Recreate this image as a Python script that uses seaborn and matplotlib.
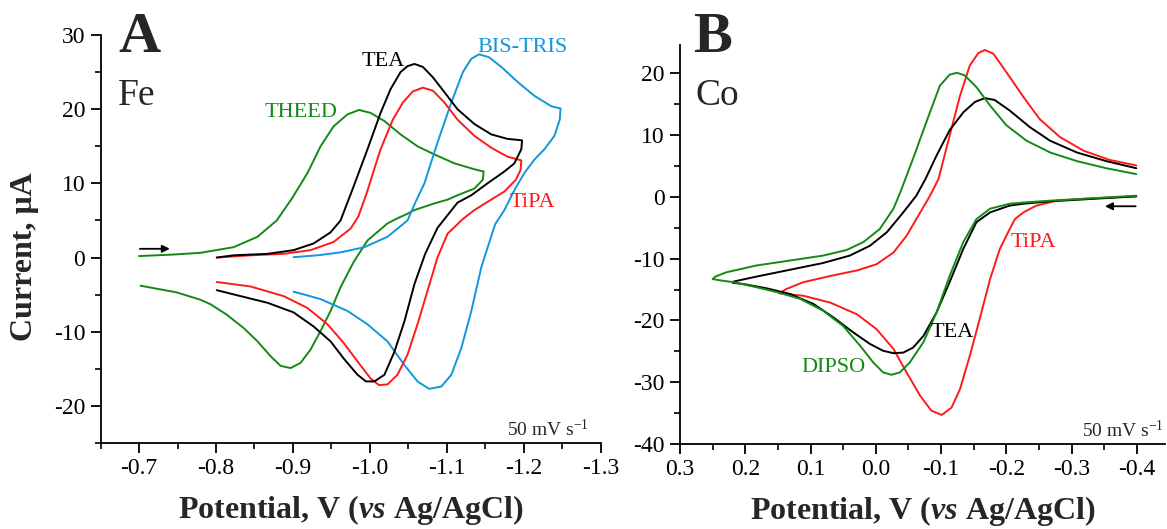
import matplotlib
matplotlib.use("Agg")
import matplotlib.pyplot as plt
import seaborn as sns
from matplotlib.ticker import MultipleLocator, FormatStrFormatter

# ---------------- Fe complexes (panel A): potential (V) and current (uA) ----------------
fe_theed_E = [-0.700, -0.744, -0.780, -0.823, -0.854, -0.879, -0.899, -0.919, -0.936, -0.953,
              -0.971, -0.986, -1.001, -1.019, -1.040, -1.062, -1.084, -1.110, -1.136, -1.148,
              -1.147, -1.136, -1.114, -1.101, -1.084, -1.058, -1.049, -1.036, -1.023, -0.997,
              -0.979, -0.962, -0.949, -0.936, -0.923, -0.910, -0.897, -0.884, -0.871, -0.854,
              -0.836, -0.814, -0.793, -0.780, -0.749, -0.702]
fe_theed_I = [0.2, 0.4, 0.64, 1.4, 2.8, 5.0, 8.0, 11.4, 15.0, 17.7,
              19.3, 19.9, 19.5, 18.4, 16.6, 15.0, 13.9, 12.7, 11.9, 11.6,
              10.5, 9.3, 8.4, 7.8, 7.3, 6.4, 5.9, 5.3, 4.6, 2.3,
              -0.6, -4.0, -7.2, -9.9, -12.4, -14.2, -14.9, -14.6, -13.3, -11.3,
              -9.5, -7.7, -6.3, -5.7, -4.7, -3.8]

fe_tea_E = [-0.801, -0.823, -0.867, -0.901, -0.927, -0.949, -0.962, -0.979, -0.997, -1.014,
            -1.027, -1.040, -1.049, -1.058, -1.069, -1.082, -1.097, -1.114, -1.136, -1.158,
            -1.179, -1.198, -1.197, -1.188, -1.175, -1.153, -1.132, -1.114, -1.101, -1.088,
            -1.072, -1.058, -1.045, -1.032, -1.019, -1.006, -0.995, -0.984, -0.966, -0.949,
            -0.927, -0.901, -0.867, -0.832, -0.801]
fe_tea_I = [0.0, 0.3, 0.5, 1.0, 1.9, 3.4, 5.0, 9.6, 14.6, 19.5,
            22.7, 25.0, 25.8, 26.1, 25.7, 24.3, 22.3, 20.0, 18.0, 16.6,
            16.0, 15.8, 14.6, 12.7, 11.6, 10.0, 8.4, 7.4, 5.7, 4.0,
            0.5, -3.6, -8.6, -12.7, -15.8, -16.7, -16.7, -15.8, -13.6, -11.3,
            -9.3, -7.4, -6.1, -5.2, -4.4]

fe_tipa_E = [-0.801, -0.845, -0.888, -0.923, -0.953, -0.975, -0.985, -0.996, -1.014, -1.030,
             -1.043, -1.056, -1.069, -1.082, -1.097, -1.114, -1.136, -1.158, -1.179, -1.197,
             -1.196, -1.190, -1.175, -1.153, -1.136, -1.121, -1.101, -1.088, -1.075, -1.062,
             -1.049, -1.036, -1.023, -1.012, -1.001, -0.984, -0.966, -0.945, -0.919, -0.888,
             -0.845, -0.801]
fe_tipa_I = [0.0, 0.3, 0.5, 1.0, 2.1, 3.9, 5.5, 8.7, 14.6, 18.6,
             20.9, 22.4, 22.9, 22.5, 20.9, 18.6, 16.4, 14.8, 13.6, 13.1,
             11.8, 10.5, 8.9, 7.5, 6.4, 5.2, 3.2, 0.0, -4.5, -9.0,
             -13.1, -15.8, -17.1, -17.2, -16.3, -14.0, -11.5, -9.0, -6.8, -5.2,
             -3.9, -3.3]

fe_bistris_E = [-0.901, -0.932, -0.962, -0.993, -1.023, -1.049, -1.060, -1.071, -1.088, -1.106,
                -1.121, -1.132, -1.142, -1.155, -1.171, -1.193, -1.214, -1.236, -1.248, -1.247,
                -1.240, -1.227, -1.214, -1.201, -1.188, -1.175, -1.163, -1.145, -1.132, -1.119,
                -1.106, -1.093, -1.077, -1.062, -1.045, -1.023, -0.997, -0.971, -0.936, -0.901]
fe_bistris_I = [0.05, 0.3, 0.7, 1.4, 2.8, 5.0, 7.6, 10.0, 15.5, 20.9,
                25.0, 26.8, 27.4, 27.0, 25.7, 23.6, 21.8, 20.4, 20.1, 18.6,
                16.4, 14.6, 13.2, 11.4, 9.1, 6.4, 4.5, -1.3, -7.2, -12.2,
                -15.8, -17.4, -17.7, -16.7, -14.5, -11.3, -9.0, -7.2, -5.6, -4.6]

# ---------------- Co complexes (panel B) ----------------
co_tea_E = [-0.399, -0.318, -0.267, -0.226, -0.205, -0.175, -0.154, -0.134, -0.113, -0.093,
            -0.073, -0.057, -0.042, -0.027, -0.011, 0.009, 0.035, 0.065, 0.096, 0.132,
            0.167, 0.203, 0.219, 0.218, 0.183, 0.132, 0.081, 0.040, 0.009, -0.017,
            -0.042, -0.062, -0.076, -0.093, -0.113, -0.134, -0.152, -0.167, -0.182, -0.205,
            -0.236, -0.267, -0.308, -0.353, -0.399]
co_tea_I = [0.1, -0.4, -0.7, -1.1, -1.4, -2.5, -4.1, -8.4, -13.8, -18.7,
            -22.5, -24.4, -25.2, -25.3, -24.9, -23.8, -21.9, -19.5, -17.3, -15.7,
            -14.8, -14.1, -13.9, -13.7, -12.9, -11.8, -10.7, -9.5, -7.9, -5.7,
            -2.5, 0.2, 2.9, 6.7, 10.8, 13.7, 15.4, 16.0, 15.7, 14.0,
            11.3, 9.1, 7.2, 5.8, 4.65]

co_dipso_E = [-0.399, -0.318, -0.267, -0.226, -0.205, -0.175, -0.154, -0.134, -0.113, -0.093,
              -0.073, -0.052, -0.037, -0.024, -0.011, 0.004, 0.024, 0.050, 0.081, 0.116,
              0.152, 0.188, 0.218, 0.239, 0.250, 0.246, 0.229, 0.183, 0.132, 0.081,
              0.045, 0.019, -0.006, -0.027, -0.038, -0.057, -0.078, -0.098, -0.113, -0.124,
              -0.136, -0.154, -0.175, -0.200, -0.231, -0.267, -0.308, -0.353, -0.399]
co_dipso_I = [0.2, -0.3, -0.6, -0.9, -1.1, -1.9, -3.6, -7.3, -12.8, -18.7,
              -23.5, -26.8, -28.4, -28.8, -28.4, -26.8, -24.1, -20.9, -18.4, -16.5,
              -15.4, -14.5, -13.8, -13.5, -13.3, -12.9, -12.2, -11.1, -10.3, -9.5,
              -8.6, -7.3, -5.2, -1.9, 0.9, 6.2, 12.3, 18.0, 19.8, 20.1,
              19.7, 17.8, 14.8, 11.6, 9.1, 7.2, 5.8, 4.65, 3.7]

co_tipa_E = [-0.399, -0.318, -0.277, -0.246, -0.226, -0.213, -0.205, -0.190, -0.175, -0.159,
             -0.144, -0.129, -0.116, -0.101, -0.085, -0.068, -0.047, -0.027, -0.001, 0.029,
             0.070, 0.111, 0.148, 0.137, 0.111, 0.070, 0.029, -0.001, -0.027, -0.047,
             -0.068, -0.083, -0.096, -0.113, -0.129, -0.144, -0.157, -0.167, -0.180, -0.200,
             -0.226, -0.251, -0.282, -0.318, -0.358, -0.399]
co_tipa_I = [0.1, -0.3, -0.6, -1.4, -2.5, -3.6, -5.2, -8.4, -13.3, -19.8,
             -25.7, -31.1, -34.1, -35.3, -34.6, -32.2, -28.4, -24.6, -21.4, -19.0,
             -17.1, -16.0, -15.6, -14.9, -13.8, -12.8, -11.9, -10.9, -9.0, -6.3,
             -2.5, 0.2, 2.9, 9.9, 16.4, 21.3, 23.3, 23.8, 23.2, 20.2,
             16.2, 12.6, 9.7, 7.5, 6.0, 5.1]

BLACK, RED, GREEN, BLUE = "black", "#ff1a1a", "#138a16", "#1296dc"

sns.set_style("ticks")
plt.rcParams["font.family"] = ["Liberation Serif", "DejaVu Serif"]
plt.rcParams["mathtext.fontset"] = "custom"
plt.rcParams["mathtext.rm"] = "Liberation Serif"
plt.rcParams["mathtext.it"] = "Liberation Serif:italic:bold"
plt.rcParams["mathtext.bf"] = "Liberation Serif:bold"
plt.rcParams["axes.unicode_minus"] = False
plt.rcParams["lines.solid_joinstyle"] = "round"

fig = plt.figure(figsize=(11.67, 5.29), dpi=100)
axA = fig.add_axes([0.0862, 0.1626, 0.4284, 0.7712])
axB = fig.add_axes([0.5827, 0.1607, 0.4156, 0.7542])

LW = 1.4
for E, I, c in [(fe_theed_E, fe_theed_I, GREEN), (fe_bistris_E, fe_bistris_I, BLUE),
                (fe_tipa_E, fe_tipa_I, RED), (fe_tea_E, fe_tea_I, BLACK)]:
    sns.lineplot(x=E, y=I, sort=False, estimator=None, color=c, lw=LW, ax=axA)

for E, I, c in [(co_tipa_E, co_tipa_I, RED), (co_tea_E, co_tea_I, BLACK),
                (co_dipso_E, co_dipso_I, GREEN)]:
    sns.lineplot(x=E, y=I, sort=False, estimator=None, color=c, lw=LW, ax=axB)

def style_axis(ax, xlim, ylim, xmaj, ymaj):
    ax.set_xlim(*xlim)
    ax.set_ylim(*ylim)
    ax.xaxis.set_major_locator(MultipleLocator(xmaj))
    ax.xaxis.set_minor_locator(MultipleLocator(xmaj / 2))
    ax.yaxis.set_major_locator(MultipleLocator(ymaj))
    ax.yaxis.set_minor_locator(MultipleLocator(ymaj / 2))
    ax.xaxis.set_major_formatter(FormatStrFormatter("%.1f"))
    ax.yaxis.set_major_formatter(FormatStrFormatter("%d"))
    for s in ("top", "right"):
        ax.spines[s].set_visible(False)
    for s in ("left", "bottom"):
        ax.spines[s].set_linewidth(1.3)
        ax.spines[s].set_color("black")
    ax.tick_params(which="major", direction="out", length=7, width=1.3,
                   labelsize=17, pad=4, colors="black")
    ax.tick_params(which="minor", direction="out", length=4, width=1.2, colors="black")
    ax.set_xlabel(r"Potential, V ($\mathit{vs}$ Ag/AgCl)", fontsize=23,
                  fontweight="bold", labelpad=10)

style_axis(axA, (-0.65, -1.3), (-25, 30), 0.1, 10)
style_axis(axB, (0.3, -0.443), (-40, 24.6), 0.1, 10)

axA.set_ylabel("Current, μA", fontsize=23, fontweight="bold")
axA.yaxis.set_label_coords(-0.124, 0.456)

# panel letters and metal labels
axA.text(0.077, 0.958, "A", transform=axA.transAxes, fontsize=42, fontweight="bold",
         ha="center", va="baseline", clip_on=False)
axA.text(0.034, 0.828, "Fe", transform=axA.transAxes, fontsize=27, ha="left", va="baseline")
axB.text(0.068, 0.982, "B", transform=axB.transAxes, fontsize=42, fontweight="bold",
         ha="center", va="baseline", clip_on=False)
axB.text(0.031, 0.85, "Co", transform=axB.transAxes, fontsize=27, ha="left", va="baseline")

# curve labels
axA.text(-1.017, 25.85, "TEA", color=BLACK, fontsize=16, ha="center", va="baseline")
axA.text(-1.198, 27.7, "BIS-TRIS", color=BLUE, fontsize=16, ha="center", va="baseline")
axA.text(-0.911, 18.9, "THEED", color=GREEN, fontsize=16, ha="center", va="baseline")
axA.text(-1.211, 6.76, "TiPA", color=RED, fontsize=16, ha="center", va="baseline")

axB.text(-0.2406, -8.15, "TiPA", color=RED, fontsize=16, ha="center", va="baseline")
axB.text(-0.1165, -22.6, "TEA", color=BLACK, fontsize=16, ha="center", va="baseline")
axB.text(0.0657, -28.4, "DIPSO", color=GREEN, fontsize=16, ha="center", va="baseline")

# scan direction arrows
arrow = dict(arrowstyle="-|>", color="black", lw=1.3, mutation_scale=11,
             shrinkA=0, shrinkB=0)
axA.annotate("", xy=(-0.740, 1.18), xytext=(-0.701, 1.18), arrowprops=arrow)
axB.annotate("", xy=(-0.351, -1.51), xytext=(-0.398, -1.51), arrowprops=arrow)

# scan rate
axA.text(0.976, 0.017, r"50 mV s$^{-1}$", transform=axA.transAxes, fontsize=14,
         ha="right", va="baseline")
axB.text(0.998, 0.018, r"50 mV s$^{-1}$", transform=axB.transAxes, fontsize=14,
         ha="right", va="baseline")

fig.savefig("out.png", dpi=100)
